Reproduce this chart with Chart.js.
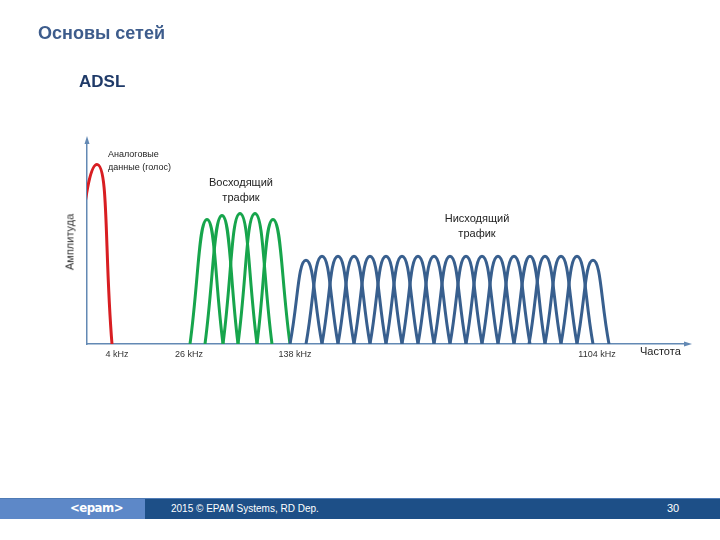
<!DOCTYPE html>
<html>
<head>
<meta charset="utf-8">
<script src="https://cdn.jsdelivr.net/npm/chart.js@4.4.0/dist/chart.umd.min.js"></script>
<style>
  html, body { margin: 0; padding: 0; background: #fff; }
  #page { position: relative; width: 720px; height: 540px; overflow: hidden; font-family: "Liberation Sans", Arial, sans-serif; }
  #chartBox { position: absolute; left: 0; top: 0; width: 720px; height: 540px; }
  .t { position: absolute; white-space: nowrap; z-index: 2; }
  #title { left: 38px; top: 23px; font-size: 18px; font-weight: bold; color: #3d5c8c; }
  #sub { left: 79px; top: 72px; font-size: 17px; font-weight: bold; color: #1f3a68; }
  .ann { font-size: 11px; color: #222; text-align: center; line-height: 15px; }
  #footer { position: absolute; left: 0; top: 498px; width: 720px; height: 21px; background: #1d4f87; border-top: 1px solid #4f7bb5; box-sizing: border-box; }
  #footLeft { position: absolute; left: 0; top: 0; width: 145px; height: 20px; background: #5d88c8; }
  #logo { position: absolute; left: 70px; top: 1px; font-family: "DejaVu Sans Condensed", "DejaVu Sans", sans-serif; font-weight: bold; font-size: 13px; color: #fff; letter-spacing: -0.5px; }
  #copy { position: absolute; left: 171px; top: 4px; font-size: 10px; color: #fff; }
  #num { position: absolute; left: 667px; top: 3px; font-size: 11px; color: #fff; }
</style>
</head>
<body>
<div id="page">
  <div id="chartBox"><canvas id="c"></canvas></div>
  <div class="t" id="title">Основы сетей</div>
  <div class="t" id="sub">ADSL</div>
  <div class="t ann" style="left:108px; top:148px; font-size:9px; line-height:13px; text-align:left;">Аналоговые<br>данные (голос)</div>
  <div class="t ann" style="left:201px; top:175px; width:80px;">Восходящий<br>трафик</div>
  <div class="t ann" style="left:437px; top:211px; width:80px;">Нисходящий<br>трафик</div>
  <div class="t ann" style="left:70px; top:242px; transform: translate(-50%,-50%) rotate(-90deg); color:#333;">Амплитуда</div>
  <div class="t ann" style="left:640px; top:344px;">Частота</div>
  <div id="footer">
    <div id="footLeft"><div id="logo">&lt;epam&gt;</div></div>
    <div id="copy">2015 © EPAM Systems, RD Dep.</div>
    <div id="num">30</div>
  </div>
</div>
<script>
// Frequency axis (schematic units) tick positions and labels
const tickValues = [30, 102, 208, 510];
const tickLabels = ['4 kHz', '26 kHz', '138 kHz', '1104 kHz'];

// Analog voice band
const voiceStarts  = [-22];
const voicePeaks   = [10];
const voiceEnds    = [25];
const voiceHeights = [88];

// Upstream sub-carriers
const upStarts  = [103, 118, 136, 151, 170];
const upPeaks   = [120, 135, 153, 168, 186];
const upEnds    = [136, 151, 170, 185, 203];
const upHeights = [61, 63, 64, 64, 61];

// Downstream sub-carriers
const downStarts  = [203, 219, 235, 251, 267, 283, 299, 315, 331, 347, 363, 379, 395, 411, 427, 442, 458, 474, 490];
const downPeaks   = [219, 235, 251, 267, 283, 299, 315, 331, 347, 363, 379, 395, 411, 427, 443, 458, 474, 490, 506];
const downEnds    = [235, 251, 267, 283, 299, 315, 331, 347, 363, 379, 395, 411, 427, 443, 458, 474, 490, 506, 522];
const downHeights = [41, 43, 43, 43, 43, 43, 43, 43, 43, 43, 43, 43, 43, 43, 43, 43, 43, 43, 41];

const RED = '#d81e22', GREEN = '#17a54c', BLUE = '#385f8e', AXIS = '#6389b4';

function arches(starts, peaks, ends, heights, color, tension) {
  return starts.map((s, i) => ({
    data: [{x: s, y: 0}, {x: peaks[i], y: heights[i]}, {x: ends[i], y: 0}],
    borderColor: color,
    borderWidth: 3,
    pointRadius: 0,
    tension: tension,
    fill: false
  }));
}

const datasets = [].concat(
  arches(downStarts, downPeaks, downEnds, downHeights, BLUE, 0.5),
  arches(upStarts, upPeaks, upEnds, upHeights, GREEN, 0.5),
  arches(voiceStarts, voicePeaks, voiceEnds, voiceHeights, RED, 0.5)
);

const arrowPlugin = {
  id: 'arrows',
  afterDraw(chart) {
    const {ctx, chartArea: a} = chart;
    ctx.save();
    ctx.fillStyle = AXIS;
    ctx.beginPath();
    ctx.moveTo(a.left, a.top - 4);
    ctx.lineTo(a.left - 2.5, a.top + 4);
    ctx.lineTo(a.left + 2.5, a.top + 4);
    ctx.closePath();
    ctx.fill();
    ctx.beginPath();
    ctx.moveTo(a.right + 4, a.bottom);
    ctx.lineTo(a.right - 4, a.bottom - 2.5);
    ctx.lineTo(a.right - 4, a.bottom + 2.5);
    ctx.closePath();
    ctx.fill();
    ctx.restore();
  }
};

Chart.defaults.font.family = '"Liberation Sans", Arial, sans-serif';

new Chart(document.getElementById('c'), {
  type: 'line',
  data: { datasets },
  options: {
    responsive: true,
    maintainAspectRatio: false,
    animation: false,
    devicePixelRatio: 1,
    layout: { padding: { left: 87, right: 32, top: 140, bottom: 176 } },
    elements: { line: { capBezierPoints: false } },
    plugins: { legend: { display: false }, tooltip: { enabled: false } },
    scales: {
      x: {
        type: 'linear',
        min: 0,
        max: 601,
        grid: { display: false, drawTicks: false },
        border: { display: true, color: AXIS, width: 1.5 },
        afterBuildTicks: (scale) => { scale.ticks = tickValues.map(v => ({ value: v })); },
        afterFit: (scale) => { scale.height = 20; },
        ticks: {
          autoSkip: false,
          maxRotation: 0,
          padding: 5,
          color: '#333',
          font: { size: 9 },
          callback: (v) => tickLabels[tickValues.indexOf(v)]
        }
      },
      y: {
        type: 'linear',
        min: 0,
        max: 100,
        grid: { display: false, drawTicks: false },
        border: { display: true, color: AXIS, width: 1.5 },
        ticks: { display: false },
        afterFit: (scale) => { scale.width = 0; }
      }
    }
  },
  plugins: [arrowPlugin]
});
</script>
</body>
</html>
